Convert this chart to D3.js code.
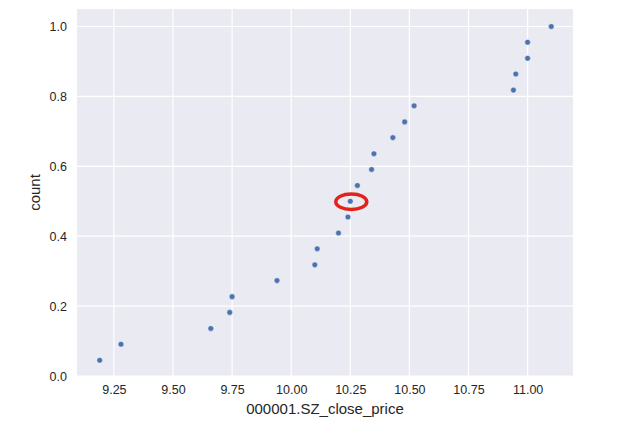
<html>
<head>
  <style>
    body { margin: 0; background: #fff; }
    svg text { font-family: "Liberation Sans", Arial, sans-serif; fill: #262626; }
  </style>
  <script src="https://d3js.org/d3.v7.min.js"></script>
</head>
<body>
<div id="chart"></div>
<script type="text/javascript">
  var width = 637
  var height = 429
  var margin = {top: 9, right: 64, bottom: 53, left: 77}

  // close prices, sorted, and their ecdf share
  var prices = [9.19, 9.28, 9.66, 9.74, 9.75, 9.94, 10.10, 10.11, 10.20, 10.24, 10.25,
                10.28, 10.34, 10.35, 10.43, 10.48, 10.52, 10.94, 10.95, 11.00, 11.00, 11.10]
  var counts = [0.045, 0.091, 0.136, 0.182, 0.227, 0.273, 0.318, 0.364, 0.409, 0.455, 0.500,
                0.545, 0.591, 0.636, 0.682, 0.727, 0.773, 0.818, 0.864, 0.909, 0.955, 1.000]
  var xTicks = [9.25, 9.50, 9.75, 10.00, 10.25, 10.50, 10.75, 11.00]
  var yTicks = [0.0, 0.2, 0.4, 0.6, 0.8, 1.0]
  var marked = 10   // circled point

  var svg = d3.select("#chart").append("svg")
      .attr("width", width)
      .attr("height", height)

  var x = d3.scaleLinear().domain([9.094, 11.192]).range([margin.left, width - margin.right])
  var y = d3.scaleLinear().domain([0, 1.05]).range([height - margin.bottom, margin.top])

  svg.append("rect")
      .attr("x", margin.left)
      .attr("y", margin.top)
      .attr("width", width - margin.left - margin.right)
      .attr("height", height - margin.top - margin.bottom)
      .attr("fill", "#eaeaf2")

  /* grid */
  svg.selectAll(".xgrid").data(xTicks).enter().append("line")
      .attr("x1", function(d) { return x(d) }).attr("x2", function(d) { return x(d) })
      .attr("y1", margin.top).attr("y2", height - margin.bottom)
      .attr("stroke", "#fff").attr("stroke-width", 1.2)
  svg.selectAll(".ygrid").data(yTicks).enter().append("line")
      .attr("y1", function(d) { return y(d) }).attr("y2", function(d) { return y(d) })
      .attr("x1", margin.left).attr("x2", width - margin.right)
      .attr("stroke", "#fff").attr("stroke-width", 1.2)

  var xAxis = svg.append("g")
      .attr("transform", "translate(0," + (height - margin.bottom) + ")")
      .call(d3.axisBottom(x).tickValues(xTicks).tickFormat(d3.format(".2f")).tickSize(0).tickPadding(9))
  var yAxis = svg.append("g")
      .attr("transform", "translate(" + margin.left + ",0)")
      .call(d3.axisLeft(y).tickValues(yTicks).tickFormat(d3.format(".1f")).tickSize(0).tickPadding(10))
  xAxis.select(".domain").remove()
  yAxis.select(".domain").remove()
  svg.selectAll(".tick text").attr("font-size", 12.5).attr("fill", "#262626")

  svg.append("text")
      .attr("x", (margin.left + width - margin.right) / 2)
      .attr("y", 414)
      .attr("text-anchor", "middle")
      .attr("font-size", 15)
      .text("000001.SZ_close_price")
  svg.append("text")
      .attr("transform", "translate(40," + ((margin.top + height - margin.bottom) / 2) + ") rotate(-90)")
      .attr("text-anchor", "middle")
      .attr("font-size", 15)
      .text("count")

  svg.selectAll(".dot").data(prices).enter().append("circle")
      .attr("cx", function(d) { return x(d) })
      .attr("cy", function(d, i) { return y(counts[i]) })
      .attr("r", 2.8)
      .attr("fill", "#4c72b0")
      .attr("stroke", "#fff")
      .attr("stroke-width", 0.4)

  svg.append("ellipse")
      .attr("cx", x(prices[marked]) + 1)
      .attr("cy", y(counts[marked]) + 0.5)
      .attr("rx", 15.5)
      .attr("ry", 7.8)
      .attr("fill", "none")
      .attr("stroke", "#e3231b")
      .attr("stroke-width", 3.5)
</script>
</body>
</html>
